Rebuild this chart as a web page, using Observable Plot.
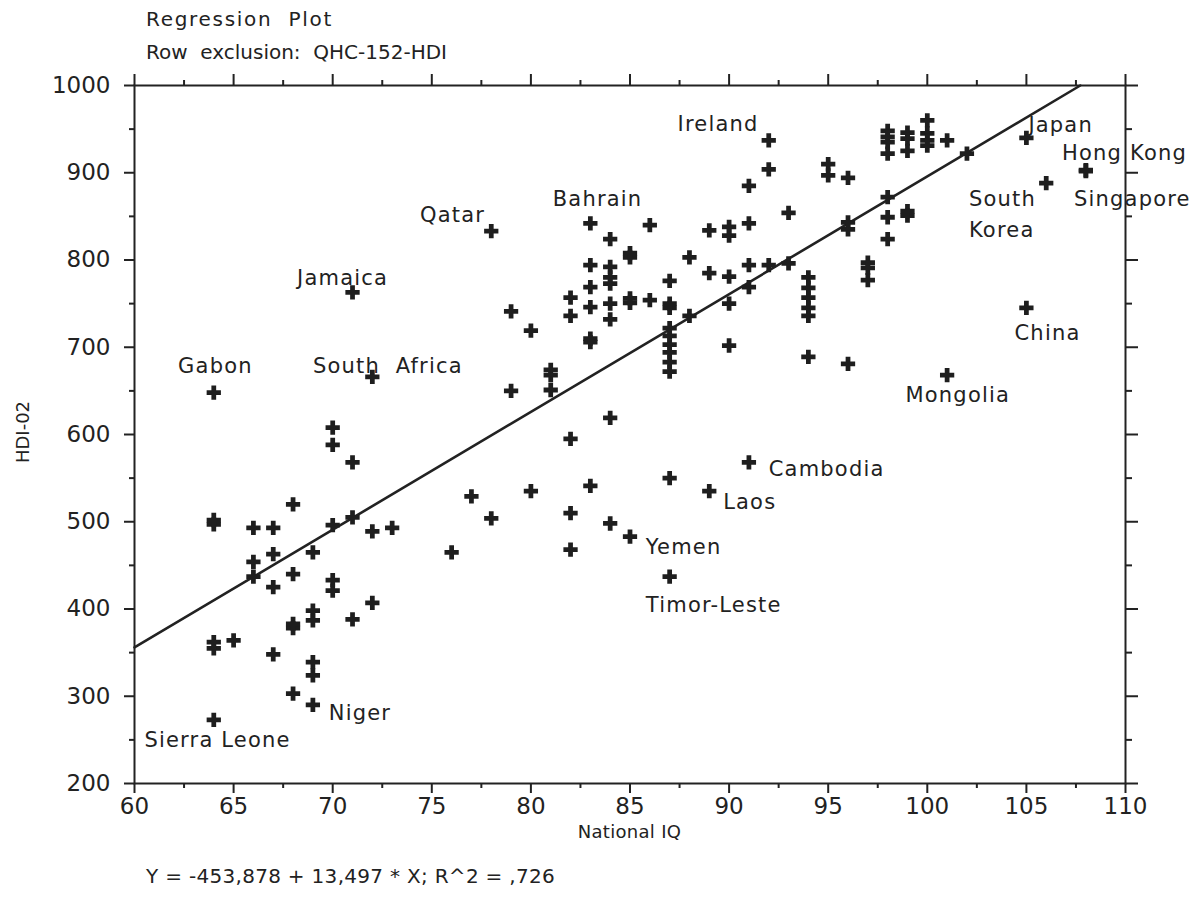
<!DOCTYPE html>
<html>
<head>
<meta charset="utf-8">
<script src="https://cdn.jsdelivr.net/npm/d3@7"></script>
<script src="https://cdn.jsdelivr.net/npm/@observablehq/plot@0.6"></script>
<style>
  body { margin: 0; background: #fff; }
  #wrap { position: relative; width: 1199px; height: 910px; background: #fff; font-family: "DejaVu Sans", sans-serif; color: #222; }
  #title { position: absolute; left: 146px; top: 3px; font-size: 20px; line-height: 33px; white-space: pre; }
  #title .l1 { letter-spacing: 1.7px; }
  #title .l2 { letter-spacing: 0px; }
  #xlabel { position: absolute; left: 0; width: 1199px; padding-left: 60px; box-sizing: border-box; text-align: center; top: 821px; font-size: 18px; letter-spacing: 0.3px; }
  #ylabel { position: absolute; left: 22px; top: 432px; font-size: 18px; transform: translate(-50%, -50%) rotate(-90deg); white-space: nowrap; }
  #equation { position: absolute; left: 146px; top: 864px; font-size: 20px; letter-spacing: 0.3px; white-space: pre; }
  #chart { position: absolute; left: 0; top: 0; }
  #chart g[aria-label="text"] { letter-spacing: 1.2px; }
</style>
</head>
<body>
<div id="wrap">
  <div id="chart"></div>
  <div id="title"><span class="l1">Regression  Plot</span>
<span class="l2">Row  exclusion:  QHC-152-HDI</span></div>
  <div id="ylabel">HDI-02</div>
  <div id="xlabel">National IQ</div>
  <div id="equation">Y = -453,878 + 13,497 * X; R^2 = ,726</div>
</div>
<script>
// National IQ (x) and HDI-02 (y) of each country
const iqValues = [
  64, 64, 64, 64, 64, 64,
  65,
  66, 66, 66,
  67, 67, 67, 67,
  68, 68, 68, 68, 68,
  69, 69, 69, 69, 69, 69,
  70, 70, 70, 70, 70,
  71, 71, 71, 71,
  72, 72, 72,
  73, 76, 77,
  78, 78,
  79, 79,
  80, 80,
  81, 81, 81,
  82, 82, 82, 82, 82,
  83, 83, 83, 83, 83, 83, 83,
  84, 84, 84, 84, 84, 84, 84, 84,
  85, 85, 85, 85, 85,
  86, 86,
  87, 87, 87, 87, 87, 87, 87, 87, 87, 87, 87,
  88, 88,
  89, 89, 89,
  90, 90, 90, 90, 90,
  91, 91, 91, 91, 91,
  92, 92, 92,
  93, 93,
  94, 94, 94, 94, 94, 94,
  95, 95,
  96, 96, 96, 96,
  97, 97, 97,
  98, 98, 98, 98, 98, 98, 98,
  99, 99, 99, 99, 99,
  100, 100, 100, 100,
  101, 101,
  102,
  105, 105,
  106,
  108, 108
];
const hdiValues = [
  648, 497, 502, 355, 362, 273,
  364,
  493, 454, 437,
  493, 463, 425, 348,
  520, 440, 378, 383, 303,
  465, 398, 387, 339, 324, 290,
  608, 588, 496, 433, 421,
  763, 568, 505, 388,
  666, 489, 407,
  493, 465, 529,
  833, 504,
  741, 650,
  719, 535,
  668, 674, 651,
  757, 736, 595, 510, 468,
  842, 794, 769, 746, 706, 710, 541,
  824, 792, 780, 773, 750, 732, 619, 498,
  803, 808, 751, 756, 483,
  840, 754,
  776, 745, 750, 722, 713, 703, 694, 683, 672, 550, 437,
  803, 736,
  834, 785, 535,
  838, 828, 781, 750, 702,
  885, 842, 794, 769, 568,
  937, 904, 794,
  854, 796,
  780, 768, 757, 745, 736, 689,
  910, 897,
  894, 835, 843, 681,
  797, 791, 777,
  948, 941, 935, 922, 872, 849, 824,
  946, 939, 925, 851, 856,
  960, 945, 937, 931,
  937, 668,
  922,
  940, 745,
  888,
  903, 902
];

// Country labels and where their text sits (data units)
const labelNames = ["Gabon", "Jamaica", "South  Africa", "Qatar", "Bahrain", "Ireland", "Japan", "Hong Kong",
  "South", "Korea", "Singapore", "China", "Mongolia", "Cambodia", "Laos", "Yemen", "Timor-Leste", "Niger", "Sierra Leone"];
const labelIQ  = [62.2, 68.2, 69.0, 74.4, 81.1, 87.4, 105.1, 106.8, 102.1, 102.1, 107.4, 104.4, 98.9, 92.0, 89.7, 85.8, 85.8, 69.8, 60.5];
const labelHDI = [678, 779, 678, 851, 870, 956, 954, 922, 870, 834, 870, 716, 645, 560, 522, 471, 404, 281, 249];

// Regression reported under the chart
const regIntercept = -453.878;
const regSlope = 13.497;

const xMajor = [60, 65, 70, 75, 80, 85, 90, 95, 100, 105, 110];
const xMinor = [62.5, 67.5, 72.5, 77.5, 82.5, 87.5, 92.5, 97.5, 102.5, 107.5];
const yMajor = [200, 300, 400, 500, 600, 700, 800, 900, 1000];
const yMinor = [250, 350, 450, 550, 650, 750, 850, 950];

const points = iqValues.map((x, i) => ({x, y: hdiValues[i]}));
const labels = labelNames.map((name, i) => ({name, x: labelIQ[i], y: labelHDI[i]}));
const xEnd = (1000 - regIntercept) / regSlope;
const regLine = [60, xEnd].map(x => ({x, y: regIntercept + regSlope * x}));

const ink = "#222";
const blank = () => "";
const plain = d => String(d);

const chart = Plot.plot({
  width: 1199,
  height: 910,
  marginLeft: 134,
  marginRight: 74,
  marginTop: 85,
  marginBottom: 127,
  x: {domain: [60, 110]},
  y: {domain: [200, 1000]},
  style: {fontFamily: "DejaVu Sans, sans-serif", color: ink, background: "transparent", overflow: "visible"},
  marks: [
    Plot.frame({stroke: ink, strokeWidth: 2}),
    Plot.axisX(xMajor, {anchor: "bottom", tickSize: 10, tickPadding: 4, fontSize: 23, tickFormat: plain, strokeWidth: 2, label: null}),
    Plot.axisX(xMinor, {anchor: "bottom", tickSize: 5, tickFormat: blank, strokeWidth: 2, label: null}),
    Plot.axisX(xMajor, {anchor: "top", tickSize: 12, tickFormat: blank, strokeWidth: 2, label: null}),
    Plot.axisX(xMinor, {anchor: "top", tickSize: 6, tickFormat: blank, strokeWidth: 2, label: null}),
    Plot.axisY(yMajor, {anchor: "left", tickSize: 10, tickPadding: 14, fontSize: 23, tickFormat: plain, strokeWidth: 2, label: null}),
    Plot.axisY(yMinor, {anchor: "left", tickSize: 5, tickFormat: blank, strokeWidth: 2, label: null}),
    Plot.axisY(yMajor, {anchor: "right", tickSize: 12, tickFormat: blank, strokeWidth: 2, label: null}),
    Plot.axisY(yMinor, {anchor: "right", tickSize: 6, tickFormat: blank, strokeWidth: 2, label: null}),
    Plot.line(regLine, {x: "x", y: "y", stroke: ink, strokeWidth: 2.6}),
    Plot.dot(points, {x: "x", y: "y", symbol: "cross", r: 6, fill: "#1e1e1e", stroke: "none"}),
    Plot.text(labels, {x: "x", y: "y", text: "name", textAnchor: "start", lineAnchor: "middle", fontSize: 21, fill: ink})
  ]
});
document.getElementById("chart").appendChild(chart);
</script>
</body>
</html>
